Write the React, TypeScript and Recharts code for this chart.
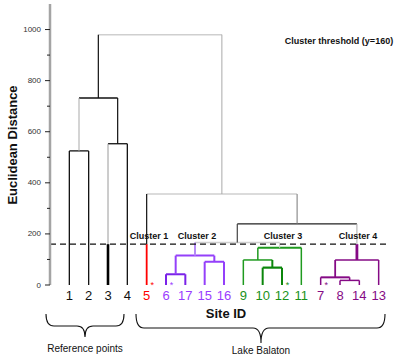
import React from "react";
import { ComposedChart, Line, XAxis, YAxis, ReferenceLine } from "recharts";

// leaf order along the x axis
const siteIds = ["1", "2", "3", "4", "5", "6", "17", "15", "16", "9", "10", "12", "11", "7", "8", "14", "13"];
const leafGroups = ["ref", "ref", "ref", "ref", "c1", "c2", "c2", "c2", "c2", "c3", "c3", "c3", "c3", "c4", "c4", "c4", "c4"];
const markedSites = ["5", "6", "12", "7"];

// linkage: [left node, right node, height]; leaves are 0..16, merges get 17, 18, ...
const merges: [number, number, number][] = [
  [0, 1, 525],
  [2, 3, 553],
  [17, 18, 732],
  [5, 6, 42],
  [7, 8, 91],
  [20, 21, 115],
  [10, 11, 68],
  [9, 23, 98],
  [24, 12, 146],
  [14, 15, 18],
  [13, 26, 30],
  [27, 16, 98],
  [22, 25, 166],
  [29, 28, 239],
  [4, 30, 356],
  [19, 31, 980],
];

const threshold = 160;
const yTicks = [0, 100, 200, 300, 400, 500, 600, 700, 800, 900, 1000];
const clusterLabels = ["Cluster 1", "Cluster 2", "Cluster 3", "Cluster 4"];

const FONT = "'Liberation Sans', Arial, sans-serif";
const AXIS_X = 50;

const groupColor: Record<string, string> = {
  ref: "#111",
  c1: "#ff0000",
  c2: "#9a3cff",
  c3: "#1a921a",
  c4: "#850a85",
};

const C2 = "#9440fa";
const C2D = "#7a22e8";
const C2L = "#b68cf6";
const C3 = "#1f9a1f";
const C3D = "#0b860b";
const C4 = "#850a85";
const GREY = "#a9a9a9";
const LIGHT = "#cfcfcf";

type St = [string, number];
type VSt = St | { lo: St; hi: St };

// vertical branch style above each node
const vStyle: Record<number, VSt> = {
  0: ["#111", 1.3],
  1: ["#111", 1.3],
  2: { lo: ["#000", 2.6], hi: ["#9a9a9a", 1] },
  3: ["#111", 1.3],
  4: { lo: ["#ff0000", 1.8], hi: ["#111", 1.2] },
  5: [C2D, 2],
  6: [C2D, 2],
  7: [C2, 2],
  8: [C2, 2],
  9: [C3, 1.5],
  10: [C3D, 2],
  11: [C3D, 2],
  12: [C3, 1.5],
  13: [C4, 1.5],
  14: [C4, 1.5],
  15: [C4, 1.5],
  16: [C4, 1.5],
  17: [GREY, 1],
  18: ["#111", 1.2],
  19: ["#111", 1.2],
  20: [C2, 2],
  21: [C2, 2],
  22: [C2L, 2],
  23: [C3D, 2],
  24: [C3, 1.5],
  25: [LIGHT, 1.2],
  26: [C4, 1.5],
  27: [C4, 1.8],
  28: { lo: [C4, 2.8], hi: [GREY, 1] },
  29: ["#444", 1.2],
  30: ["#777", 1],
  31: [GREY, 1],
};

// horizontal style at each merge
const hStyle: Record<number, St> = {
  17: ["#111", 1.3],
  18: ["#111", 1.3],
  19: ["#111", 1.3],
  20: [C2D, 2],
  21: [C2, 2],
  22: [C2, 2],
  23: [C3D, 2.2],
  24: [C3, 1.5],
  25: [C3, 2],
  26: [C4, 1.5],
  27: [C4, 2],
  28: [C4, 1.5],
  29: [LIGHT, 1.5],
  30: ["#222", 1.2],
  31: [LIGHT, 1.5],
  32: [LIGHT, 1.5],
};

type Seg = { pts: { x: number; y: number }[]; color: string; width: number };

function buildSegments(): Seg[] {
  const nx: number[] = siteIds.map((_, i) => i);
  const nh: number[] = siteIds.map(() => 0);
  const segs: Seg[] = [];
  merges.forEach(([l, r, h], k) => {
    const id = siteIds.length + k;
    nx[id] = (nx[l] + nx[r]) / 2;
    nh[id] = h;
    const hs = hStyle[id];
    segs.push({ pts: [{ x: nx[l], y: h }, { x: nx[r], y: h }], color: hs[0], width: hs[1] });
    [l, r].forEach((c) => {
      const st = vStyle[c];
      if (Array.isArray(st)) {
        segs.push({ pts: [{ x: nx[c], y: nh[c] }, { x: nx[c], y: h }], color: st[0], width: st[1] });
      } else {
        segs.push({ pts: [{ x: nx[c], y: nh[c] }, { x: nx[c], y: threshold }], color: st.lo[0], width: st.lo[1] });
        segs.push({ pts: [{ x: nx[c], y: threshold }, { x: nx[c], y: h }], color: st.hi[0], width: st.hi[1] });
      }
    });
  });
  return segs;
}

const segments = buildSegments();

function YTick(props: any) {
  const { y, payload } = props;
  const v = payload.value as number;
  const major = v % 200 === 0;
  return (
    <g>
      <line x1={major ? AXIS_X - 5 : AXIS_X - 3} x2={AXIS_X} y1={y} y2={y} stroke="#222" strokeWidth={1} />
      {major && (
        <text x={AXIS_X - 9} y={y} textAnchor="end" dominantBaseline="central" fontSize={8} fill="#333" fontFamily={FONT}>
          {v}
        </text>
      )}
    </g>
  );
}

function LeafTick(props: any) {
  const { x, y, payload } = props;
  const i = payload.value as number;
  const id = siteIds[i];
  const color = groupColor[leafGroups[i]];
  return (
    <g>
      <text x={x} y={y + 10.5} textAnchor="middle" dominantBaseline="central" fontSize={13} fill={color} fontFamily={FONT}>
        {id}
      </text>
      {markedSites.includes(id) && (
        <text x={x + 5.5} y={y + 2.5} textAnchor="middle" fontSize={9} fill={color} fontFamily={FONT}>
          *
        </text>
      )}
    </g>
  );
}

function brace(x1: number, x2: number, xm: number, y0: number, y1: number, tip: number) {
  const r = 8;
  return `M ${x1} ${y0} Q ${x1} ${y1} ${x1 + r} ${y1} L ${xm - r} ${y1} Q ${xm} ${y1} ${xm} ${tip} Q ${xm} ${y1} ${xm + r} ${y1} L ${x2 - r} ${y1} Q ${x2} ${y1} ${x2} ${y0}`;
}

export default function App() {
  return (
    <div style={{ position: "absolute", left: 0, top: 0, width: 400, height: 359, background: "#fff", fontFamily: FONT }}>
      <ComposedChart width={400} height={359} margin={{ top: 4, right: 2, bottom: 0, left: 0 }}>
        <XAxis
          dataKey="x"
          type="number"
          domain={[-1, 17]}
          ticks={siteIds.map((_, i) => i)}
          interval={0}
          tick={<LeafTick />}
          axisLine={false}
          tickLine={false}
          tickSize={0}
          tickMargin={0}
          height={74}
          allowDataOverflow
        />
        <YAxis
          type="number"
          domain={[0, 1100]}
          ticks={yTicks}
          interval={0}
          width={AXIS_X}
          tick={<YTick />}
          tickLine={false}
          axisLine={{ stroke: "#a4a4a4", strokeWidth: 2.5 }}
        />
        {segments.map((s, i) => (
          <Line
            key={i}
            data={s.pts}
            dataKey="y"
            stroke={s.color}
            strokeWidth={s.width}
            dot={false}
            activeDot={false}
            isAnimationActive={false}
            legendType="none"
            type="linear"
          />
        ))}
        <ReferenceLine
          segment={[
            { x: -1, y: threshold },
            { x: 16.4, y: threshold },
          ]}
          stroke="#111"
          strokeWidth={1.2}
          strokeDasharray="6 4"
        />
      </ComposedChart>
      <svg width={400} height={359} style={{ position: "absolute", left: 0, top: 0, pointerEvents: "none" }} fontFamily={FONT}>
        <text x={12} y={145} transform="rotate(-90 12 145)" textAnchor="middle" dominantBaseline="central" fontSize={13} fontWeight="bold" fill="#111">
          Euclidean Distance
        </text>
        <text x={339} y={41} textAnchor="middle" dominantBaseline="central" fontSize={9} fontWeight="bold" fill="#111">
          Cluster threshold (y=160)
        </text>
        {[149, 197, 283, 358].map((cx, i) => (
          <text key={i} x={cx} y={236} textAnchor="middle" dominantBaseline="central" fontSize={9} fontWeight="bold" fill="#111">
            {clusterLabels[i]}
          </text>
        ))}
        <text x={226} y={313} textAnchor="middle" dominantBaseline="central" fontSize={13} fontWeight="bold" fill="#111">
          Site ID
        </text>
        <path d={brace(46, 124, 85, 314, 326, 337)} fill="none" stroke="#111" strokeWidth={1.1} />
        <text x={85} y={348} textAnchor="middle" dominantBaseline="central" fontSize={10} fill="#111">
          Reference points
        </text>
        <path d={brace(136, 385, 261, 314, 328, 343)} fill="none" stroke="#111" strokeWidth={1.1} />
        <text x={261} y={350} textAnchor="middle" dominantBaseline="central" fontSize={10} fill="#111">
          Lake Balaton
        </text>
      </svg>
    </div>
  );
}
